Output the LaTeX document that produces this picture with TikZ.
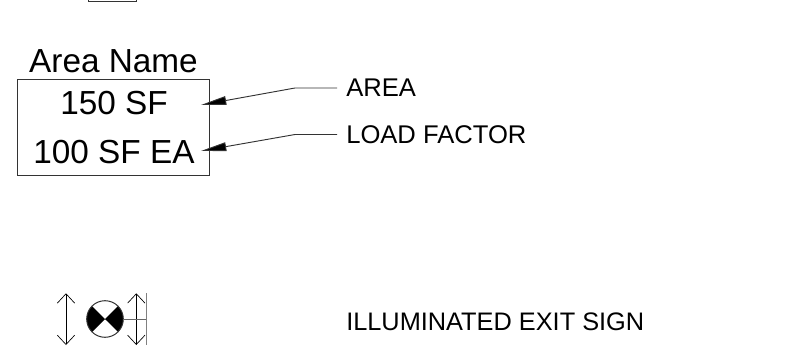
\documentclass[tikz,border=0pt]{standalone}
\usepackage{fontspec}
\setmainfont{Liberation Sans}
\usetikzlibrary{positioning,
				arrows.meta,
				calc}
\tikzset{
	roomtext/.style={inner sep=0pt,font=\fontsize{25pt}{27pt}\selectfont},
	notetext/.style={inner sep=0pt,anchor=west,font=\fontsize{19.2pt}{21pt}\selectfont},
	leader/.style={draw=black!80,line width=.7pt},
	leadertip/.style={-{Triangle[length=19pt,width=6.5pt,fill=black]}},
	openarrow/.style={{Straight Barb[length=7pt,width=13pt,line width=.5pt]}-{Straight Barb[length=7pt,width=13pt,line width=.5pt]},line width=.75pt}
}
\begin{document}
\begin{tikzpicture}[x=.75pt,y=-.75pt]
	\useasboundingbox (0,0) rectangle (808,346);
	% box cut by the top edge
	\draw[line width=.75pt,draw=black!80] (88,-5) rectangle (136,2);
	% area tag
	\node[draw=black!80,line width=.75pt,minimum width=144.2pt,minimum height=71.7pt,inner sep=0pt] (tagbox) at (113.7,127.5) {};
	\node[roomtext] (tagname) at (113.5,61) {Area Name};
	\node[roomtext] (tagarea) at (114,103) {150 SF};
	\node[roomtext] (tagload) at (114,152) {100 SF EA};
	\coordinate (areatip) at (201,105);
	\coordinate (areabend) at (295,88);
	\coordinate (loadtip) at (201,151);
	\coordinate (loadbend) at (295,134.5);
	\node[notetext] (arealabel) at (346,88) {AREA};
	\node[notetext] (loadlabel) at (346,134.5) {LOAD FACTOR};
	\draw[leader,leadertip] ($(arealabel.west)+(-9,0)$) -- (areabend) -- (areatip);
	\draw[leader,leadertip] ($(loadlabel.west)+(-9,0)$) -- (loadbend) -- (loadtip);
	% exit sign symbol
	\coordinate (signcentre) at (105,319);
	\fill (signcentre) -- ++(-45:18.3) arc(-45:45:18.3) -- cycle;
	\fill (signcentre) -- ++(135:18.3) arc(135:225:18.3) -- cycle;
	\draw[line width=.75pt,draw=black!80] (signcentre) circle (18.3);
	\draw[openarrow] (66,345) -- (66,293.3);
	\draw[openarrow] (136.3,345) -- (136.3,293.3);
	\draw[line width=.75pt,draw=black!60] (123.3,319) -- (146.7,319);
	\draw[line width=1pt,draw=black!50] (146.7,293.3) -- (146.7,345);
	\node[notetext,font=\fontsize{19pt}{21pt}\selectfont] (signlabel) at (346,321.5) {ILLUMINATED EXIT SIGN};
\end{tikzpicture}
\end{document}
